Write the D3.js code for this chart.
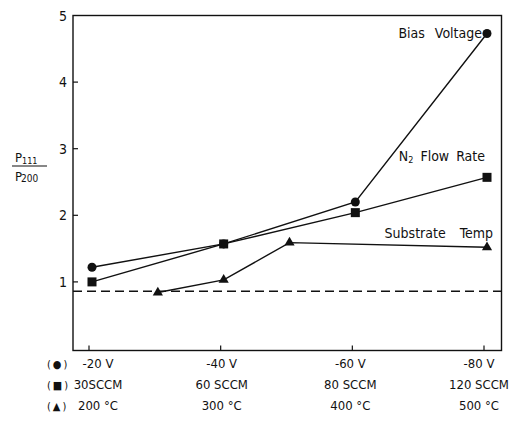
<!DOCTYPE html>
<html>
<head>
<meta charset="utf-8">
<script src="https://cdnjs.cloudflare.com/ajax/libs/d3/7.8.5/d3.min.js"></script>
<style>
  body { margin: 0; background: #fff; }
  text { font-family: "DejaVu Sans Condensed", "DejaVu Sans", sans-serif; fill: #111; }
</style>
</head>
<body>
<div id="chart"></div>
<script>
// data
var biasLabels = ["-20 V", "-40 V", "-60 V", "-80 V"];
var flowLabels = ["30SCCM", "60 SCCM", "80 SCCM", "120 SCCM"];
var tempLabels = ["200 °C", "300 °C", "400 °C", "500 °C"];

var biasValues = [1.22, 1.57, 2.20, 4.73];       // circles, one per column
var flowValues = [1.00, 1.57, 2.04, 2.57];       // squares, one per column
var tempPoints = [250, 300, 350, 500];           // triangles sit on a temperature scale
var tempValues = [0.84, 1.03, 1.59, 1.52];
var baseline = 0.86;                              // dashed reference
var yTicks = [1, 2, 3, 4, 5];

(function () {
  var width = 530, height = 428;
  var left = 73, right = 501.5, top = 15.5, bottom = 350.5;

  var svg = d3.select("#chart").append("svg")
      .attr("width", width)
      .attr("height", height);

  // scales
  var x = d3.scaleLinear().domain([0, 3]).range([92, 487]);
  var xt = d3.scaleLinear().domain([200, 500]).range([92, 487]);
  var y = d3.scaleLinear().domain([0, 5]).range([348.5, 15.5]);

  // frame
  svg.append("rect")
      .attr("x", left).attr("y", top)
      .attr("width", right - left).attr("height", bottom - top)
      .attr("fill", "none")
      .attr("stroke", "#111")
      .attr("stroke-width", 1.4);

  // y ticks (inside) + labels
  svg.selectAll(".ytick")
      .data(yTicks.filter(function(d) { return d < 5; }))
      .enter().append("line")
      .attr("x1", left).attr("x2", left + 5)
      .attr("y1", function(d) { return y(d); })
      .attr("y2", function(d) { return y(d); })
      .attr("stroke", "#111").attr("stroke-width", 1.2);

  svg.selectAll(".ylab")
      .data(yTicks)
      .enter().append("text")
      .attr("x", left - 6)
      .attr("y", function(d) { return y(d) + 5; })
      .attr("text-anchor", "end")
      .attr("font-size", 14)
      .text(function(d) { return d; });

  // x ticks (inside, from bottom)
  svg.selectAll(".xtick")
      .data(biasLabels)
      .enter().append("line")
      .attr("x1", function(d, i) { return x(i) - 3; })
      .attr("x2", function(d, i) { return x(i) - 3; })
      .attr("y1", bottom).attr("y2", bottom - 5)
      .attr("stroke", "#111").attr("stroke-width", 1.2);

  // dashed reference line
  svg.append("line")
      .attr("x1", left).attr("x2", right)
      .attr("y1", y(baseline)).attr("y2", y(baseline))
      .attr("stroke", "#111")
      .attr("stroke-width", 1.4)
      .attr("stroke-dasharray", "9,5");

  // lines
  var line = d3.line()
      .x(function(d) { return d[0]; })
      .y(function(d) { return y(d[1]); });

  var biasPts = biasValues.map(function(v, i) { return [x(i), v]; });
  var flowPts = flowValues.map(function(v, i) { return [x(i), v]; });
  var tempPts = tempValues.map(function(v, i) { return [xt(tempPoints[i]), v]; });

  [biasPts, flowPts, tempPts].forEach(function(pts) {
    svg.append("path")
        .datum(pts)
        .attr("d", line)
        .attr("fill", "none")
        .attr("stroke", "#111")
        .attr("stroke-width", 1.4);
  });

  // markers
  svg.selectAll(".circ")
      .data(biasPts)
      .enter().append("circle")
      .attr("cx", function(d) { return d[0]; })
      .attr("cy", function(d) { return y(d[1]); })
      .attr("r", 4.5)
      .attr("fill", "#111");

  svg.selectAll(".sq")
      .data(flowPts)
      .enter().append("rect")
      .attr("x", function(d) { return d[0] - 4.5; })
      .attr("y", function(d) { return y(d[1]) - 4.5; })
      .attr("width", 9).attr("height", 9)
      .attr("fill", "#111");

  svg.selectAll(".tri")
      .data(tempPts)
      .enter().append("path")
      .attr("transform", function(d) { return "translate(" + d[0] + "," + y(d[1]) + ")"; })
      .attr("d", d3.symbol().type(d3.symbolTriangle).size(45))
      .attr("fill", "#111");

  // series labels
  svg.append("text")
      .attr("x", x(3) - 5).attr("y", y(biasValues[3]) + 5)
      .attr("text-anchor", "end").attr("font-size", 14)
      .attr("word-spacing", 6)
      .text("Bias Voltage");

  var fl = svg.append("text")
      .attr("x", x(3) - 2).attr("y", y(flowValues[3]) - 16)
      .attr("text-anchor", "end").attr("font-size", 14)
      .attr("word-spacing", 3);
  fl.append("tspan").text("N");
  fl.append("tspan").attr("font-size", 9).attr("dy", 2).text("2");
  fl.append("tspan").attr("dy", -2).text(" Flow Rate");

  svg.append("text")
      .attr("x", x(3) + 6).attr("y", y(tempValues[3]) - 9)
      .attr("text-anchor", "end").attr("font-size", 14)
      .attr("word-spacing", 10)
      .text("Substrate Temp");

  // y axis label: P111 / P200
  var num = svg.append("text").attr("x", 15).attr("y", 162).attr("font-size", 13);
  num.append("tspan").text("P");
  num.append("tspan").attr("font-size", 9).attr("dy", 2).text("111");
  svg.append("line")
      .attr("x1", 12).attr("x2", 47).attr("y1", 166).attr("y2", 166)
      .attr("stroke", "#111").attr("stroke-width", 1.2);
  var den = svg.append("text").attr("x", 15).attr("y", 181).attr("font-size", 13);
  den.append("tspan").text("P");
  den.append("tspan").attr("font-size", 10).attr("dy", 1).attr("dx", -1).text("200");

  // bottom category rows
  var rows = [
    {sym: "(\u25CF)", labels: biasLabels},
    {sym: "(\u25A0)", labels: flowLabels},
    {sym: "(\u25B2)", labels: tempLabels}
  ];
  var colDx = [6, -2, -5, -8];

  rows.forEach(function(r, k) {
    var ry = 368 + k * 21;
    svg.append("text")
        .attr("x", 47).attr("y", ry)
        .attr("font-size", 11)
        .attr("letter-spacing", 2)
        .text(r.sym);
    svg.selectAll(".row" + k)
        .data(r.labels)
        .enter().append("text")
        .attr("x", function(d, i) { return x(i) + colDx[i]; })
        .attr("y", ry)
        .attr("text-anchor", "middle")
        .attr("font-size", 13)
        .text(function(d) { return d; });
  });
})();
</script>
</body>
</html>
